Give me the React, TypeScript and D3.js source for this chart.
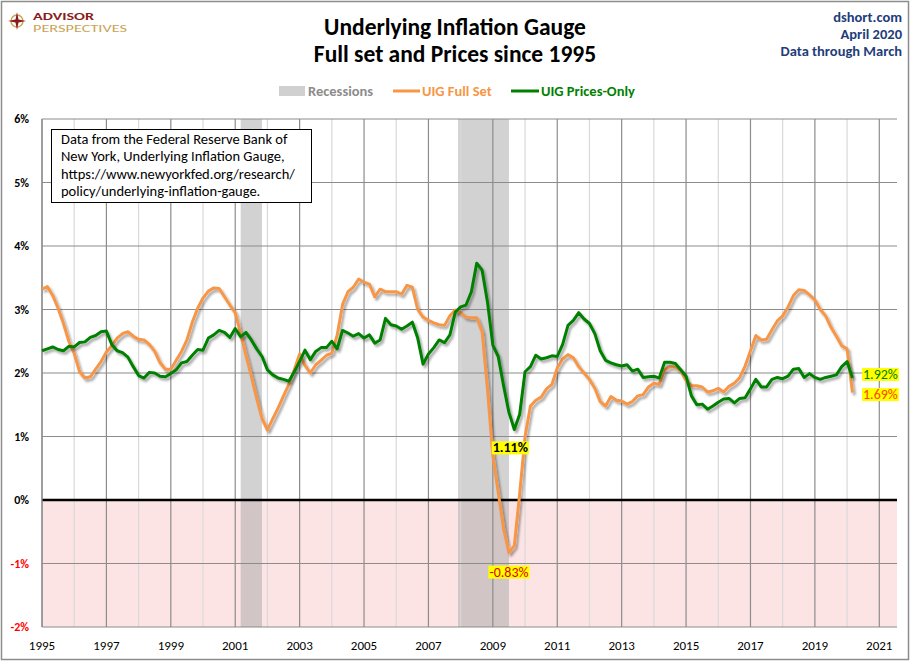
import React, { useEffect, useRef } from "react";
import { select, scaleLinear, line, range } from "d3";

// UIG values, every other month from Jan 1995 (Jan, Mar, May, Jul, Sep, Nov)
const fullSet = [
  3.32, 3.36, 3.22, 3.02, 2.78, 2.5, // 1995
  2.31, 2.02, 1.92, 1.94, 2.06, 2.18, // 1996
  2.33, 2.43, 2.55, 2.62, 2.65, 2.58, // 1997
  2.53, 2.52, 2.45, 2.34, 2.16, 2.06, // 1998
  2.06, 2.2, 2.34, 2.52, 2.8, 3.02, // 1999
  3.18, 3.29, 3.34, 3.33, 3.2, 3.07, // 2000
  2.95, 2.62, 2.28, 1.95, 1.6, 1.28, // 2001
  1.1, 1.28, 1.45, 1.64, 1.82, 2.05, // 2002
  2.3, 2.12, 2.0, 2.13, 2.2, 2.28, // 2003
  2.31, 2.6, 3.08, 3.28, 3.35, 3.48, // 2004
  3.43, 3.4, 3.2, 3.32, 3.28, 3.28, // 2005
  3.28, 3.24, 3.38, 3.35, 3.0, 2.88, // 2006
  2.83, 2.79, 2.76, 2.75, 2.9, 2.99, // 2007
  2.95, 2.88, 2.87, 2.87, 2.65, 1.75, // 2008
  0.7, 0.12, -0.45, -0.83, -0.72, 0.1, // 2009
  1.0, 1.48, 1.57, 1.62, 1.75, 1.82, // 2010
  2.08, 2.22, 2.29, 2.24, 2.1, 2.0, // 2011
  1.9, 1.76, 1.55, 1.48, 1.63, 1.57, // 2012
  1.56, 1.51, 1.55, 1.64, 1.66, 1.78, // 2013
  1.84, 1.82, 2.05, 2.1, 2.09, 2.04, // 2014
  1.88, 1.8, 1.8, 1.78, 1.7, 1.72, // 2015
  1.76, 1.7, 1.79, 1.84, 1.93, 2.11, // 2016
  2.35, 2.59, 2.52, 2.53, 2.68, 2.82, // 2017
  2.9, 3.04, 3.22, 3.31, 3.3, 3.23, // 2018
  3.15, 3.0, 2.9, 2.72, 2.58, 2.43, // 2019
  2.38, 1.69, // 2020
];

const pricesOnly = [
  2.35, 2.38, 2.41, 2.37, 2.35, 2.42, // 1995
  2.41, 2.48, 2.49, 2.56, 2.59, 2.65, // 1996
  2.66, 2.45, 2.35, 2.32, 2.25, 2.1, // 1997
  1.96, 1.92, 2.01, 2.0, 1.95, 1.94, // 1998
  1.99, 2.05, 2.16, 2.18, 2.28, 2.37, // 1999
  2.36, 2.55, 2.6, 2.67, 2.64, 2.56, // 2000
  2.7, 2.57, 2.64, 2.52, 2.38, 2.26, // 2001
  2.05, 1.97, 1.92, 1.9, 1.87, 2.02, // 2002
  2.18, 2.36, 2.21, 2.34, 2.4, 2.4, // 2003
  2.5, 2.38, 2.67, 2.63, 2.58, 2.62, // 2004
  2.55, 2.6, 2.47, 2.52, 2.86, 2.76, // 2005
  2.74, 2.69, 2.74, 2.8, 2.55, 2.14, // 2006
  2.3, 2.4, 2.52, 2.48, 2.6, 2.96, // 2007
  3.04, 3.07, 3.28, 3.73, 3.62, 3.12, // 2008
  2.44, 2.26, 1.8, 1.38, 1.11, 1.35, // 2009
  2.02, 2.1, 2.28, 2.22, 2.24, 2.27, // 2010
  2.26, 2.45, 2.75, 2.83, 2.95, 2.85, // 2011
  2.78, 2.62, 2.35, 2.2, 2.16, 2.13, // 2012
  2.11, 2.13, 2.03, 2.06, 1.93, 1.94, // 2013
  1.95, 1.92, 2.17, 2.17, 2.15, 2.05, // 2014
  1.95, 1.64, 1.5, 1.51, 1.43, 1.48, // 2015
  1.54, 1.59, 1.6, 1.53, 1.6, 1.61, // 2016
  1.75, 1.9, 1.78, 1.78, 1.9, 1.93, // 2017
  1.91, 1.95, 2.06, 2.07, 1.93, 1.99, // 2018
  1.93, 1.9, 1.93, 1.95, 1.97, 2.1, // 2019
  2.18, 1.92, // 2020
];

// recessions as [start, end] in decimal years
const recessions = [
  [2001.17, 2001.83],
  [2007.92, 2009.5],
];

const yTicks = [-2, -1, 0, 1, 2, 3, 4, 5, 6];
const years = range(1995, 2022);

const noteLines = [
  "Data from the Federal Reserve Bank of",
  "New York, Underlying Inflation Gauge,",
  "https://www.newyorkfed.org/research/",
  "policy/underlying-inflation-gauge.",
];

const font = "Carlito, Lato, 'Open Sans', sans-serif";
const orange = "#f79646";
const green = "#008000";

function chart(node: SVGSVGElement) {
  const width = 910;
  const height = 661;
  const left = 42;
  const right = 897;
  const top = 119;
  const bottom = 627;

  const x = scaleLinear().domain([1995, 2021.55]).range([left, right]);
  const y = scaleLinear().domain([-2, 6]).range([bottom, top]);

  const svg = select(node);
  svg.selectAll("*").remove();
  svg.attr("width", width).attr("height", height).attr("viewBox", [0, 0, width, height]);

  const defs = svg.append("defs");
  defs
    .append("filter")
    .attr("id", "shadow")
    .attr("x", "-5%")
    .attr("y", "-5%")
    .attr("width", "110%")
    .attr("height", "110%")
    .append("feDropShadow")
    .attr("dx", 2)
    .attr("dy", 2.5)
    .attr("stdDeviation", 1.3)
    .attr("flood-color", "#000")
    .attr("flood-opacity", 0.35);

  svg.append("rect").attr("width", width).attr("height", height).attr("fill", "#fff");
  svg
    .append("rect")
    .attr("x", 1.5)
    .attr("y", 1.5)
    .attr("width", width - 3)
    .attr("height", height - 3)
    .attr("fill", "none")
    .attr("stroke", "#8c8c8c")
    .attr("stroke-width", 1.5);

  // negative zone
  svg
    .append("rect")
    .attr("x", left)
    .attr("y", y(0))
    .attr("width", right - left)
    .attr("height", y(-2) - y(0))
    .attr("fill", "#fde4e4");

  // recessions
  svg
    .append("g")
    .selectAll("rect")
    .data(recessions)
    .join("rect")
    .attr("x", (d) => x(d[0]))
    .attr("y", top)
    .attr("width", (d) => x(d[1]) - x(d[0]))
    .attr("height", bottom - top)
    .attr("fill", "#a6a6a6")
    .attr("fill-opacity", 0.5);

  // vertical grid
  svg
    .append("g")
    .selectAll("line")
    .data(years)
    .join("line")
    .attr("x1", (d) => x(d))
    .attr("x2", (d) => x(d))
    .attr("y1", top)
    .attr("y2", bottom)
    .attr("stroke", (d) => (d % 2 === 1 ? "#8c8c8c" : "#d9d9d9"))
    .attr("stroke-width", 1.2);

  // horizontal grid
  svg
    .append("g")
    .selectAll("line")
    .data(yTicks)
    .join("line")
    .attr("x1", left)
    .attr("x2", right)
    .attr("y1", (d) => y(d))
    .attr("y2", (d) => y(d))
    .attr("stroke", (d) => (d === 0 ? "#000" : "#8c8c8c"))
    .attr("stroke-width", (d) => (d === 0 ? 2.5 : 1.2));

  svg
    .append("line")
    .attr("x1", left)
    .attr("x2", left)
    .attr("y1", top)
    .attr("y2", bottom)
    .attr("stroke", "#8c8c8c")
    .attr("stroke-width", 1.2);

  // y labels
  svg
    .append("g")
    .selectAll("text")
    .data(yTicks)
    .join("text")
    .attr("x", 29)
    .attr("y", (d) => y(d))
    .attr("dy", "0.35em")
    .attr("text-anchor", "end")
    .attr("font-family", font)
    .attr("font-size", 12)
    .attr("font-weight", "bold")
    .attr("fill", (d) => (d < 0 ? "#ff0000" : "#000"))
    .text((d) => `${d}%`);

  // x labels
  svg
    .append("g")
    .selectAll("text")
    .data(years.filter((d) => d % 2 === 1))
    .join("text")
    .attr("x", (d) => x(d))
    .attr("y", 645)
    .attr("dy", "0.35em")
    .attr("text-anchor", "middle")
    .attr("font-family", font)
    .attr("font-size", 13)
    .attr("fill", "#000")
    .text((d) => d);

  // series
  const path = line<number>()
    .x((d, i) => x(1995 + i / 6))
    .y((d) => y(d));

  svg
    .append("path")
    .datum(fullSet)
    .attr("d", path)
    .attr("fill", "none")
    .attr("stroke", orange)
    .attr("stroke-width", 3)
    .attr("stroke-linejoin", "round")
    .attr("filter", "url(#shadow)");

  svg
    .append("path")
    .datum(pricesOnly)
    .attr("d", path)
    .attr("fill", "none")
    .attr("stroke", green)
    .attr("stroke-width", 3)
    .attr("stroke-linejoin", "round")
    .attr("filter", "url(#shadow)");

  // value callouts
  const callout = (cx: number, cy: number, label: string, color: string, anchor = "middle") => {
    const g = svg.append("g");
    const t = g
      .append("text")
      .attr("x", cx)
      .attr("y", cy)
      .attr("dy", "0.35em")
      .attr("text-anchor", anchor)
      .attr("font-family", font)
      .attr("font-size", 14)
      .attr("font-weight", color === "#000" ? "bold" : "normal")
      .attr("fill", color)
      .text(label);
    const b = (t.node() as SVGTextElement).getBBox();
    g.insert("rect", "text")
      .attr("x", b.x - 1)
      .attr("y", b.y + 2)
      .attr("width", b.width + 2)
      .attr("height", b.height - 4)
      .attr("fill", "#ffff00");
  };

  const minFull = Math.min(...fullSet);
  const iMinFull = fullSet.indexOf(minFull);
  const crisisPrices = pricesOnly.slice(80, 96);
  const minPrices = Math.min(...crisisPrices);
  const iMinPrices = 80 + crisisPrices.indexOf(minPrices);
  callout(x(1995 + iMinPrices / 6) - 4, y(minPrices) + 18, `${minPrices.toFixed(2)}%`, "#000");
  callout(x(1995 + iMinFull / 6), y(minFull) + 19, `${minFull.toFixed(2)}%`, "#e00000");

  const lastI = fullSet.length - 1;
  callout(863, y(pricesOnly[lastI]) - 4, `${pricesOnly[lastI].toFixed(2)}%`, green, "start");
  callout(863, y(fullSet[lastI]) + 1.5, `${fullSet[lastI].toFixed(2)}%`, "#ff4500", "start");

  // note box
  svg
    .append("rect")
    .attr("x", 51.5)
    .attr("y", 129.5)
    .attr("width", 260)
    .attr("height", 73)
    .attr("fill", "#fff")
    .attr("stroke", "#000")
    .attr("stroke-width", 1);
  svg
    .append("g")
    .selectAll("text")
    .data(noteLines)
    .join("text")
    .attr("x", 61)
    .attr("y", (d, i) => 138.5 + i * 17.6)
    .attr("dy", "0.35em")
    .attr("font-family", font)
    .attr("font-size", 14.5)
    .attr("fill", "#000")
    .text((d) => d);

  // titles
  svg
    .append("text")
    .attr("x", 455)
    .attr("y", 35)
    .attr("text-anchor", "middle")
    .attr("font-family", font)
    .attr("font-size", 23.5)
    .attr("font-weight", "bold")
    .text("Underlying Inflation Gauge");
  svg
    .append("text")
    .attr("x", 455)
    .attr("y", 62)
    .attr("text-anchor", "middle")
    .attr("font-family", font)
    .attr("font-size", 23.5)
    .attr("font-weight", "bold")
    .text("Full set and Prices since 1995");

  const info = ["dshort.com", "April 2020", "Data through March"];
  svg
    .append("g")
    .selectAll("text")
    .data(info)
    .join("text")
    .attr("x", 902)
    .attr("y", (d, i) => 17 + i * 17)
    .attr("dy", "0.35em")
    .attr("text-anchor", "end")
    .attr("font-family", font)
    .attr("font-size", 14.5)
    .attr("font-weight", "bold")
    .attr("fill", "#1f3d7a")
    .text((d) => d);

  // legend
  const lg = svg.append("g").attr("font-family", font).attr("font-size", 14.5).attr("font-weight", "bold");
  lg.append("rect").attr("x", 279).attr("y", 86).attr("width", 26).attr("height", 10).attr("fill", "#d0d0d0");
  lg.append("text").attr("x", 308).attr("y", 91).attr("dy", "0.35em").attr("fill", "#8c8c8c").text("Recessions");
  lg.append("line").attr("x1", 393).attr("x2", 420).attr("y1", 91).attr("y2", 91).attr("stroke", orange).attr("stroke-width", 3);
  lg.append("text").attr("x", 422).attr("y", 91).attr("dy", "0.35em").attr("fill", orange).text("UIG Full Set");
  lg.append("line").attr("x1", 511).attr("x2", 539).attr("y1", 91).attr("y2", 91).attr("stroke", green).attr("stroke-width", 3);
  lg.append("text").attr("x", 541).attr("y", 91).attr("dy", "0.35em").attr("fill", green).text("UIG Prices-Only");

  // logo
  const logo = svg.append("g");
  logo.append("circle").attr("cx", 17).attr("cy", 21).attr("r", 6).attr("fill", "none").attr("stroke", "#c9a456").attr("stroke-width", 1.4);
  logo
    .append("path")
    .attr("d", "M17,12 L18.5,19.5 L26,21 L18.5,22.5 L17,30 L15.5,22.5 L8,21 L15.5,19.5 Z")
    .attr("fill", "#8b1a1a");
  logo
    .append("text")
    .attr("x", 33)
    .attr("y", 19.5)
    .attr("font-family", font)
    .attr("font-size", 10)
    .attr("font-weight", "bold")
    .attr("fill", "#8b1a1a")
    .attr("textLength", 61)
    .attr("lengthAdjust", "spacingAndGlyphs")
    .text("ADVISOR");
  logo
    .append("text")
    .attr("x", 33)
    .attr("y", 32)
    .attr("font-family", font)
    .attr("font-size", 9.5)
    .attr("font-weight", 300)
    .attr("fill", "#c9a456")
    .attr("textLength", 94)
    .attr("lengthAdjust", "spacingAndGlyphs")
    .text("PERSPECTIVES");
}

export default function App() {
  const ref = useRef<SVGSVGElement>(null);
  useEffect(() => {
    if (ref.current) chart(ref.current);
  }, []);
  return <svg ref={ref} style={{ position: "absolute", left: 0, top: 0 }} />;
}
